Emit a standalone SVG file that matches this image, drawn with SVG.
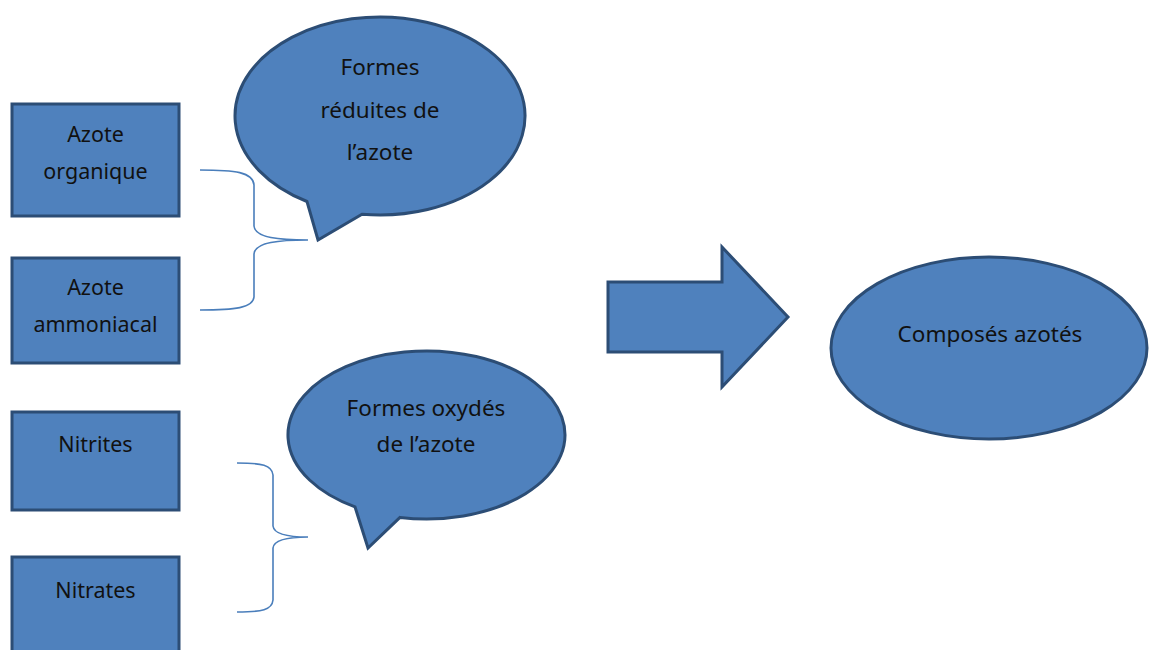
<svg xmlns="http://www.w3.org/2000/svg" width="1149" height="650" viewBox="0 0 1149 650">
<style>
.shape{fill:#4f81bd;stroke:#2c4d75;stroke-width:3;stroke-linejoin:miter}
.t{font-family:"Noto Sans","Open Sans","Liberation Sans",sans-serif;font-size:21.5px;fill:#111;text-anchor:middle}
.tc{font-family:"Noto Sans","Open Sans","Liberation Sans",sans-serif;font-size:22.5px;fill:#111;text-anchor:middle}
.brace{fill:none;stroke:#4a7ebb;stroke-width:1.6}
</style>
<rect width="1149" height="650" fill="#fff"/>
<g id="azote-organique">
<rect class="shape" x="12" y="104" width="167" height="112"/>
<text class="t" x="95.5" y="142">Azote</text>
<text class="t" x="95.5" y="179">organique</text>
</g>
<g id="azote-ammoniacal">
<rect class="shape" x="12" y="258" width="167" height="105"/>
<text class="t" x="95.5" y="295">Azote</text>
<text class="t" x="95.5" y="332">ammoniacal</text>
</g>
<g id="nitrites">
<rect class="shape" x="12" y="412" width="167" height="98"/>
<text class="t" x="95.5" y="452">Nitrites</text>
</g>
<g id="nitrates">
<rect class="shape" x="12" y="557" width="167" height="110"/>
<text class="t" x="95.5" y="598">Nitrates</text>
</g>
<g id="formes-reduites">
<path class="shape" d="M307,201.5 A145,99 0 1 1 362,214.2 L318,240 Z"/>
<text class="tc" x="380" y="75">Formes</text>
<text class="tc" x="380" y="118">réduites de</text>
<text class="tc" x="380" y="160">l’azote</text>
</g>
<g id="formes-oxydes">
<path class="shape" d="M355,506.9 A138.5,84 0 1 1 400,517.4 L368,548 Z"/>
<text class="tc" x="426" y="416">Formes oxydés</text>
<text class="tc" x="426" y="452">de l’azote</text>
</g>
<g id="fleche">
<path class="shape" d="M608,282 L722,282 L722,247 L788,317 L722,387 L722,352 L608,352 Z"/>
</g>
<g id="composes-azotes">
<ellipse class="shape" cx="989" cy="348" rx="158" ry="91"/>
<text class="tc" x="990" y="342">Composés azotés</text>
</g>
<g id="connectors">
<path class="brace" d="M200,170 C235,170 253,172 254,185 L254,226 C255,238 280,240 308,240 C280,240 255,242 254,254 L254,297 C253,308 235,310 200,310"/>
<path class="brace" d="M237,463 C262,463 272,465 273,475 L273,526 C274,535 290,537 308,537 C290,537 274,539 273,548 L273,600 C272,610 262,612 237,612"/>
</g>
</svg>
